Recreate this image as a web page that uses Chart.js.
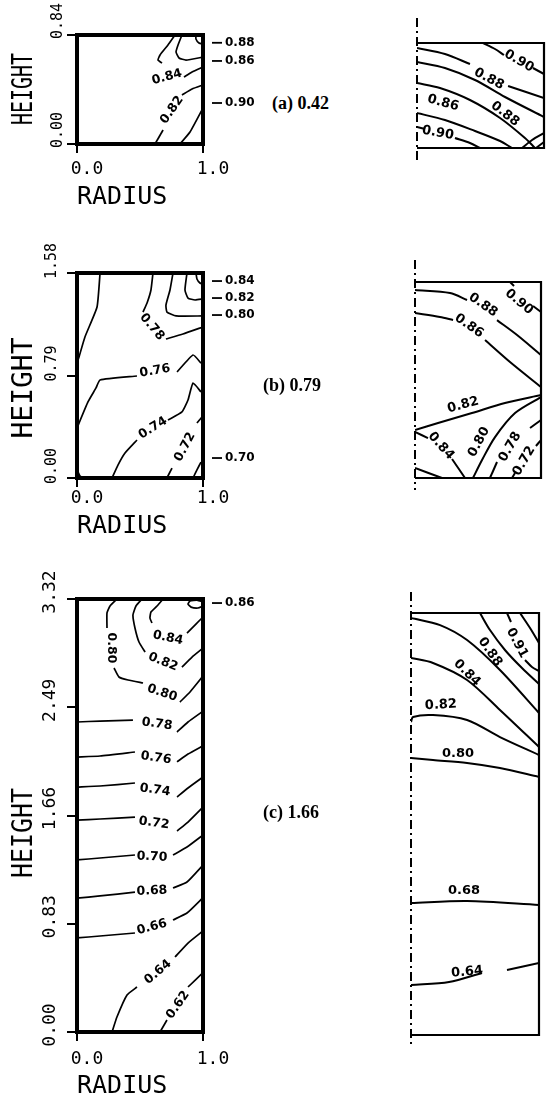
<!DOCTYPE html>
<html>
<head>
<meta charset="utf-8">
<script src="https://cdn.jsdelivr.net/npm/chart.js@4.4.1/dist/chart.umd.min.js"></script>
<style>
  html, body { margin: 0; padding: 0; background: #fff; }
  body { width: 548px; height: 1099px; position: relative; overflow: hidden; }
  canvas { position: absolute; }
  .cap { position: absolute; font-family: "Liberation Serif", serif; font-size: 18px; font-weight: bold; line-height: 1; color: #000; white-space: nowrap; transform: translateY(-50%); }
  .ytitle { position: absolute; font-family: "DejaVu Sans Mono", monospace; font-size: 28px; line-height: 1; color: #000; white-space: nowrap; }
</style>
</head>
<body>
<canvas id="aL" width="270" height="212" style="left:0;top:0"></canvas>
<canvas id="aR" width="148" height="160" style="left:400px;top:10px"></canvas>
<canvas id="bL" width="270" height="300" style="left:0;top:240px"></canvas>
<canvas id="bR" width="148" height="250" style="left:400px;top:250px"></canvas>
<canvas id="cL" width="270" height="539" style="left:0;top:560px"></canvas>
<canvas id="cR" width="153" height="480" style="left:395px;top:580px"></canvas>

<div class="ytitle" style="left:23px;top:89px;transform:translate(-50%,-50%) rotate(-90deg) scaleX(0.71)">HEIGHT</div>
<div class="ytitle" style="left:23px;top:388px;transform:translate(-50%,-50%) rotate(-90deg)">HEIGHT</div>
<div class="ytitle" style="left:23px;top:833px;transform:translate(-50%,-50%) rotate(-90deg) scaleX(0.89)">HEIGHT</div>

<div class="cap" style="left:272px;top:103px">(a) 0.42</div>
<div class="cap" style="left:263px;top:385px">(b) 0.79</div>
<div class="cap" style="left:263px;top:812px">(c) 1.66</div>

<script>
// ---------- axis ticks ----------
const radiusTicks = [0, 1];
const heightTicksA = [0, 0.84];
const heightTicksB = [0, 0.79, 1.58];
const heightTicksC = [0, 0.83, 1.66, 2.49, 3.32];

// ---------- (a) left: contour segments, points are [radius, height] ----------
const contoursAL = [
  [[0.944,0.84],[0.944,0.809],[0.968,0.778],[1.0,0.771]],
  [[0.833,0.84],[0.802,0.763],[0.786,0.709],[0.810,0.663],[0.865,0.647],[1.0,0.670]],
  [[0.778,0.84],[0.722,0.763],[0.659,0.686],[0.643,0.647],[0.675,0.624]],
  [[0.849,0.516],[0.913,0.555],[1.0,0.593]],
  [[0.619,0.0],[0.683,0.108]],
  [[0.833,0.378],[0.913,0.424],[1.0,0.455]],
  [[0.817,0.0],[0.897,0.092],[1.0,0.277]]
];
const labelsAL = [['0.84',0.714,0.516,-15],['0.82',0.754,0.262,-55]];
const edgeAL = [['0.88',0.78],['0.86',0.64],['0.90',0.316]];

// ---------- (a) right ----------
const contoursAR = [
  [[0.520,0.84],[0.614,0.792],[0.685,0.744]],
  [[0.913,0.640],[1.0,0.592]],
  [[0,0.80],[0.220,0.752],[0.417,0.672]],
  [[0.717,0.496],[1.0,0.40]],
  [[0,0.688],[0.220,0.640],[0.457,0.544],[0.693,0.408],[1.0,0.248]],
  [[0,0.52],[0.181,0.48],[0.417,0.384],[0.654,0.24],[0.850,0.08],[0.929,0]],
  [[0,0.28],[0.220,0.224],[0.457,0.136],[0.654,0.056],[0.748,0]],
  [[0,0.168],[0.063,0.152]],
  [[0.299,0.08],[0.417,0.04],[0.496,0]],
  [[0.827,0],[0.906,0.064],[1.0,0.12]],
  [[0.937,0],[1.0,0.048]]
];
const labelsAR = [['0.90',0.803,0.696,30],['0.88',0.567,0.552,28],['0.86',0.205,0.36,15],['0.88',0.693,0.272,38],['0.90',0.165,0.12,10]];

// ---------- (b) left ----------
const contoursBL = [
  [[0.183,1.58],[0.159,1.318],[0.063,1.087],[0.016,0.933],[0,0.886]],
  [[0.603,1.58],[0.587,1.449],[0.556,1.349],[0.524,1.279]],
  [[0.706,1.071],[0.841,1.110],[1.0,1.164]],
  [[0.762,1.58],[0.738,1.449],[0.706,1.333],[0.714,1.279],[0.786,1.249],[1.0,1.249]],
  [[0.873,1.58],[0.857,1.449],[0.881,1.387],[0.937,1.372],[1.0,1.380]],
  [[0.944,1.58],[0.952,1.534],[0.976,1.503],[1.0,1.495]],
  [[0,0.385],[0.087,0.586],[0.151,0.694],[0.183,0.755],[0.476,0.786]],
  [[0.794,0.817],[0.921,0.948],[0.984,0.886]],
  [[0.278,0],[0.325,0.100],[0.381,0.193],[0.476,0.293]],
  [[0.722,0.447],[0.833,0.509],[0.881,0.601],[0.921,0.732],[0.984,0.663]],
  [[0.714,0],[0.754,0.077]],
  [[0.952,0.424],[0.992,0.470]],
  [[0.921,0],[0.952,0.062],[0.984,0.123]],
  [[0,0.062],[0.024,0.015],[0.056,0]]
];
const labelsBL = [['0.78',0.595,1.164,50],['0.76',0.619,0.825,-10],['0.74',0.603,0.385,-32],['0.72',0.857,0.239,-62]];
const edgeBL = [['0.84',1.518],['0.82',1.387],['0.80',1.256],['0.70',0.154]];

// ---------- (b) right ----------
const contoursBR = [
  [[0.754,1.58],[0.786,1.548]],
  [[0.937,1.387],[1.0,1.338]],
  [[0,1.515],[0.278,1.491],[0.413,1.435]],
  [[0.651,1.273],[0.810,1.153],[1.0,0.991]],
  [[0,1.330],[0.198,1.298],[0.302,1.273]],
  [[0.556,1.112],[0.754,0.935],[1.0,0.733]],
  [[0,0.387],[0.183,0.443],[0.452,0.524],[0.714,0.605],[1.0,0.669]],
  [[1.0,0.653],[0.794,0.524],[0.635,0.330],[0.532,0.145],[0.460,0]],
  [[1.0,0.467],[0.913,0.403]],
  [[0.651,0.129],[0.595,0]],
  [[1.0,0.306],[0.960,0.258]],
  [[0.794,0.040],[0.770,0]],
  [[0,0.371],[0.103,0.322]],
  [[0.294,0.153],[0.397,0]],
  [[0,0.081],[0.214,0]]
];
const labelsBR = [['0.90',0.825,1.419,40],['0.88',0.540,1.394,35],['0.86',0.429,1.225,35],['0.82',0.381,0.588,-15],['0.84',0.206,0.258,48],['0.80',0.508,0.29,-62],['0.78',0.754,0.250,-60],['0.72',0.865,0.137,-60]];

// ---------- (c) left ----------
const contoursCL = [
  [[1.0,3.297],[0.952,3.312],[0.897,3.305],[0.881,3.281],[0.905,3.258],[0.960,3.251],[1.0,3.266]],
  [[0.683,3.32],[0.635,3.266],[0.587,3.220],[0.579,3.174],[0.595,3.136]],
  [[0.873,3.059],[0.944,3.128],[1.0,3.182]],
  [[0.516,3.32],[0.468,3.266],[0.444,3.197],[0.460,3.098],[0.492,2.990],[0.540,2.913]],
  [[0.833,2.798],[0.913,2.875],[1.0,2.944]],
  [[0.317,3.32],[0.262,3.266],[0.238,3.213],[0.238,3.098]],
  [[0.294,2.791],[0.333,2.722],[0.405,2.699],[0.524,2.676]],
  [[0.817,2.530],[0.897,2.607],[1.0,2.729]],
  [[0,2.377],[0.183,2.384],[0.444,2.392]],
  [[0.794,2.300],[0.881,2.377],[1.0,2.460]],
  [[0,2.108],[0.183,2.116],[0.460,2.147]],
  [[0.794,2.071],[0.881,2.131],[1.0,2.195]],
  [[0,1.878],[0.183,1.886],[0.460,1.909]],
  [[0.794,1.802],[0.881,1.871],[1.0,1.955]],
  [[0,1.625],[0.183,1.633],[0.460,1.648]],
  [[0.794,1.541],[0.881,1.610],[1.0,1.725]],
  [[0,1.319],[0.183,1.334],[0.460,1.357]],
  [[0.762,1.357],[0.873,1.418],[1.0,1.510]],
  [[0,1.027],[0.183,1.043],[0.460,1.073]],
  [[0.762,1.104],[0.873,1.150],[1.0,1.280]],
  [[0,0.721],[0.183,0.736],[0.460,0.759]],
  [[0.762,0.859],[0.873,0.912],[1.0,1.030]],
  [[0.278,0],[0.317,0.115],[0.397,0.284],[0.476,0.345]],
  [[0.778,0.575],[0.881,0.682],[1.0,0.775]],
  [[0.659,0],[0.714,0.092]],
  [[0.881,0.345],[1.0,0.455]]
];
const labelsCL = [['0.84',0.722,3.021,12],['0.82',0.683,2.837,22],['0.80',0.270,2.944,90],['0.80',0.675,2.599,18],
  ['0.78',0.635,2.361,8],['0.76',0.627,2.101,8],['0.74',0.619,1.855,8],['0.72',0.611,1.602,8],
  ['0.70',0.595,1.342,3],['0.68',0.595,1.081,-3],['0.66',0.595,0.805,-15],['0.64',0.643,0.460,-40],['0.62',0.802,0.207,-55]];
const edgeCL = [['0.86',3.289]];

// ---------- (c) right ----------
const contoursCR = [
  [[0.852,3.32],[0.930,3.202],[1.0,3.084]],
  [[0.75,3.32],[0.781,3.249]],
  [[0.891,2.950],[0.945,2.895],[1.0,2.864]],
  [[0.539,3.32],[0.617,3.186],[0.734,3.029],[0.867,2.887],[1.0,2.761]],
  [[0,3.281],[0.227,3.225],[0.438,3.107],[0.695,2.871],[1.0,2.533]],
  [[0,2.966],[0.172,2.927],[0.438,2.793],[0.695,2.557],[1.0,2.266]],
  [[0,2.462],[0.016,2.502],[0.172,2.517],[0.438,2.478],[0.695,2.344],[1.0,2.203]],
  [[0,2.179],[0.172,2.163],[0.438,2.140],[0.695,2.100],[1.0,2.030]],
  [[0,1.038],[0.438,1.054],[1.0,1.023]],
  [[0,0.393],[0.297,0.417],[0.555,0.488]],
  [[0.750,0.511],[1.0,0.566]]
];
const labelsCR = [['0.91',0.828,3.084,62],['0.88',0.617,3.013,55],['0.84',0.438,2.848,45],['0.82',0.234,2.596,-3],['0.80',0.367,2.211,0],['0.68',0.414,1.133,0],['0.64',0.438,0.496,-5]];

// ---------- drawing helpers ----------
const INK = '#000';
const MONO = '"DejaVu Sans Mono", monospace';

function lineSets(segs, width, tension) {
  return segs.map(seg => ({
    data: seg.map(([r, h]) => ({ x: r, y: h })),
    showLine: true, borderColor: INK, borderWidth: width,
    pointRadius: 0, pointHitRadius: 0, tension: tension, fill: false
  }));
}

// frame, symmetry axis, contour labels and edge call-outs
const decor = {
  id: 'decor',
  afterDatasetsDraw(chart, args, o) {
    const { ctx, chartArea: a, scales: { x, y } } = chart;
    ctx.save();
    ctx.strokeStyle = INK; ctx.fillStyle = INK;
    ctx.lineWidth = o.frameWidth;
    ctx.beginPath();
    if (o.open) {
      ctx.moveTo(a.left, a.top); ctx.lineTo(a.right, a.top);
      ctx.lineTo(a.right, a.bottom); ctx.lineTo(a.left, a.bottom);
    } else {
      ctx.rect(a.left, a.top, a.right - a.left, a.bottom - a.top);
    }
    ctx.stroke();
    if (o.axis) {
      const ax = x.getPixelForValue(0);
      ctx.lineWidth = 2; ctx.setLineDash([9, 4, 2, 4]);
      ctx.beginPath(); ctx.moveTo(ax, a.top - o.axis[0]); ctx.lineTo(ax, a.bottom + o.axis[1]); ctx.stroke();
      ctx.setLineDash([]);
    }
    ctx.font = o.labelFont; ctx.textAlign = 'center'; ctx.textBaseline = 'middle';
    (o.labels || []).forEach(([t, r, h, rot]) => {
      ctx.save();
      ctx.translate(x.getPixelForValue(r), y.getPixelForValue(h));
      ctx.rotate(rot * Math.PI / 180);
      ctx.fillText(t, 0, 0);
      ctx.restore();
    });
    ctx.textAlign = 'left'; ctx.font = o.edgeFont || o.labelFont; ctx.lineWidth = 1.8;
    (o.edge || []).forEach(([t, h]) => {
      const py = y.getPixelForValue(h);
      ctx.beginPath(); ctx.moveTo(a.right + 9, py); ctx.lineTo(a.right + 19, py); ctx.stroke();
      ctx.fillText(t, a.right + 22, py);
    });
    ctx.restore();
  }
};

function leftChart(id, p) {
  return new Chart(document.getElementById(id), {
    type: 'scatter',
    data: { datasets: lineSets(p.contours, 1.7, 0.15) },
    plugins: [decor],
    options: {
      responsive: false, animation: false, devicePixelRatio: 1,
      events: [],
      layout: { padding: { top: p.padTop, right: 67, left: 0, bottom: 0 } },
      plugins: {
        legend: { display: false }, tooltip: { enabled: false },
        decor: { frameWidth: 4, labels: p.labels, edge: p.edge,
                 labelFont: 'bold 12.5px "DejaVu Sans", sans-serif', edgeFont: 'bold 12px "DejaVu Sans", sans-serif' }
      },
      scales: {
        x: {
          type: 'linear', min: 0, max: 1, position: 'bottom',
          afterBuildTicks: s => { s.ticks = radiusTicks.map(v => ({ value: v })); },
          afterFit: s => { s.height = p.xAxisH; },
          grid: { display: true, drawOnChartArea: false, drawTicks: true, tickLength: 9, color: INK, lineWidth: 2 },
          border: { display: false },
          ticks: { font: { family: MONO, size: 18, lineHeight: 1 }, color: INK, padding: p.xTickPad,
                   labelOffset: 10, maxRotation: 0, autoSkip: false, callback: v => Number(v).toFixed(1) },
          title: { display: true, text: 'RADIUS', align: 'start', color: INK,
                   font: { family: MONO, size: 25, lineHeight: 1 }, padding: { top: 0, bottom: p.titlePad } }
        },
        y: {
          type: 'linear', min: 0, max: p.hMax, position: 'left',
          afterBuildTicks: s => { s.ticks = p.ticks.map(v => ({ value: v })); },
          afterFit: s => { s.width = 77; },
          grid: { display: true, drawOnChartArea: false, drawTicks: true, tickLength: 10, color: INK, lineWidth: 2 },
          border: { display: false },
          ticks: { font: { family: MONO, size: p.yTickSize, lineHeight: 1 }, color: INK,
                   minRotation: 90, maxRotation: 90, crossAlign: 'center', padding: p.yTickPad,
                   labelOffset: p.yLabelOffset, autoSkip: false, callback: v => Number(v).toFixed(2) }
        }
      }
    }
  });
}

function rightChart(id, p) {
  return new Chart(document.getElementById(id), {
    type: 'scatter',
    data: { datasets: lineSets(p.contours, 2, 0.3) },
    plugins: [decor],
    options: {
      responsive: false, animation: false, devicePixelRatio: 1,
      events: [],
      layout: { padding: p.pad },
      plugins: {
        legend: { display: false }, tooltip: { enabled: false },
        decor: { frameWidth: 2.2, open: true, axis: p.axis, labels: p.labels,
                 labelFont: 'bold 13px "DejaVu Sans", sans-serif' }
      },
      scales: {
        x: { type: 'linear', min: 0, max: 1, display: false },
        y: { type: 'linear', min: 0, max: p.hMax, display: false }
      }
    }
  });
}

leftChart('aL', { contours: contoursAL, labels: labelsAL, edge: edgeAL, hMax: 0.84, ticks: heightTicksA,
  padTop: 35, xAxisH: 68, xTickPad: 7, titlePad: 2.5, yTickSize: 15, yTickPad: -9, yLabelOffset: -14 });
leftChart('bL', { contours: contoursBL, labels: labelsBL, edge: edgeBL, hMax: 1.58, ticks: heightTicksB,
  padTop: 33, xAxisH: 62, xTickPad: 2, titlePad: 1.5, yTickSize: 15, yTickPad: -3, yLabelOffset: -12 });
leftChart('cL', { contours: contoursCL, labels: labelsCL, edge: edgeCL, hMax: 3.32, ticks: heightTicksC,
  padTop: 39, xAxisH: 67, xTickPad: 9, titlePad: 0, yTickSize: 18, yTickPad: -4.7, yLabelOffset: -7 });

rightChart('aR', { contours: contoursAR, labels: labelsAR, hMax: 0.84, axis: [25, 15],
  pad: { left: 17, right: 4, top: 33, bottom: 22 } });
rightChart('bR', { contours: contoursBR, labels: labelsBR, hMax: 1.58, axis: [22, 12],
  pad: { left: 15, right: 7, top: 32, bottom: 22 } });
rightChart('cR', { contours: contoursCR, labels: labelsCR, hMax: 3.32, axis: [21, 12],
  pad: { left: 16, right: 9, top: 33, bottom: 25 } });
</script>
</body>
</html>
